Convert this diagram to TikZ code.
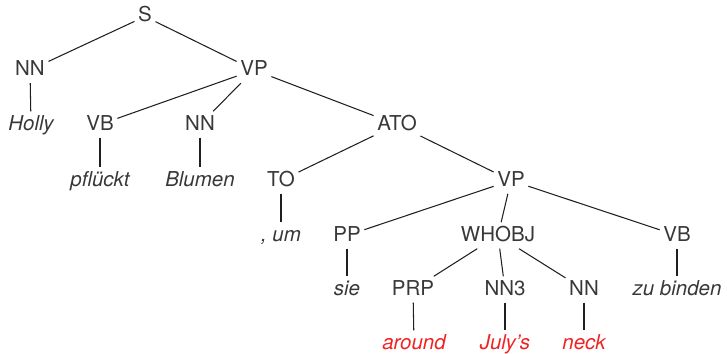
\documentclass[tikz,border=0pt]{standalone}
\usepackage{fontspec}
\setmainfont{TeX Gyre Heros}
\begin{document}
\begin{tikzpicture}[x=1pt,y=-1pt,
  lbl/.style={anchor=base,inner sep=3.5pt,text height=15pt,text depth=4pt,
    font=\fontsize{20.5}{24}\selectfont,text=black!78},
  leaf/.style={lbl,font=\fontsize{20.5}{24}\selectfont\itshape},
  hl/.style={leaf,text={rgb,255:red,240;green,35;blue,35}},
  edge/.style={draw=black!88,line width=1.05pt}]
\useasboundingbox (0,0) rectangle (727,353);
% rows (baselines)
\def\ra{22}\def\rb{75.5}\def\rc{130}\def\rd{186}\def\re{241}\def\rf{295}\def\rg{349}
\node[lbl] (s) at (145,\ra) {S};
\node[lbl] (nn1) at (30,\rb) {NN};
\node[lbl] (vp1) at (254,\rb) {VP};
\node[leaf] (holly) at (31,\rc) {Holly};
\node[lbl] (vb1) at (100,\rc) {VB};
\node[lbl] (nn2) at (200,\rc) {NN};
\node[lbl] (ato) at (397,\rc) {ATO};
\node[leaf] (pflueckt) at (100,\rd) {pflückt};
\node[leaf] (blumen) at (200,\rd) {Blumen};
\node[lbl] (to) at (281,\rd) {TO};
\node[lbl] (vp2) at (511,\rd) {VP};
\node[leaf] (um) at (281,\re) {, um};
\node[lbl] (pp) at (347,\re) {PP};
\node[lbl] (whobj) at (498,\re) {WHOBJ};
\node[lbl] (vb2) at (677,\re) {VB};
\node[leaf] (sie) at (347,\rf) {sie};
\node[lbl] (prp) at (413,\rf) {PRP};
\node[lbl] (nn3) at (505,\rf) {NN3};
\node[lbl] (nn4) at (584,\rf) {NN};
\node[leaf] (zubinden) at (677,\rf) {zu binden};
\node[hl] (around) at (414,\rg) {around};
\node[hl] (julys) at (505,\rg) {July’s};
\node[hl] (neck) at (584,\rg) {neck};
% branches
\path[edge] (s) -- (nn1);
\path[edge] (s) -- (vp1);
\path[edge] (nn1) -- (holly);
\path[edge] (vp1) -- (vb1);
\path[edge] (vp1) -- (nn2);
\path[edge] (vp1) -- (ato);
\path[edge] (vb1) -- (pflueckt);
\path[edge] (nn2) -- (blumen);
\path[edge] (ato) -- (to);
\path[edge] (ato) -- (vp2);
\path[edge] (to) -- (um);
\path[edge] (vp2) -- (pp);
\path[edge] (vp2) -- (whobj);
\path[edge] (vp2) -- (vb2);
\path[edge] (pp) -- (sie);
\path[edge] (vb2) -- (zubinden);
\path[edge] (whobj) -- (prp);
\path[edge] (whobj) -- (nn3);
\path[edge] (whobj) -- (nn4);
\path[edge] (prp) -- (around);
\path[edge] (nn3) -- (julys);
\path[edge] (nn4) -- (neck);
\end{tikzpicture}
\end{document}
